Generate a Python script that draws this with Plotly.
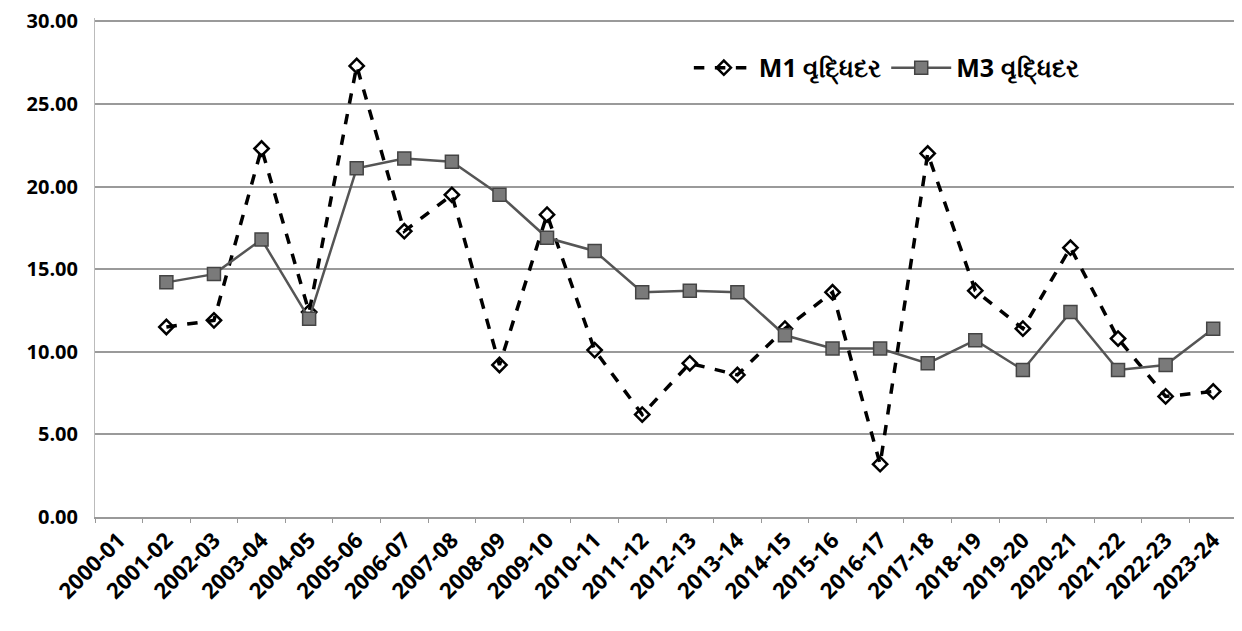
import plotly.graph_objects as go

years = ["2000-01", "2001-02", "2002-03", "2003-04", "2004-05", "2005-06", "2006-07",
         "2007-08", "2008-09", "2009-10", "2010-11", "2011-12", "2012-13", "2013-14",
         "2014-15", "2015-16", "2016-17", "2017-18", "2018-19", "2019-20", "2020-21",
         "2021-22", "2022-23", "2023-24"]

m1_growth = [None, 11.5, 11.9, 22.3, 12.4, 27.3, 17.3, 19.5, 9.2, 18.3, 10.1, 6.2,
             9.3, 8.6, 11.4, 13.6, 3.2, 22.0, 13.7, 11.4, 16.3, 10.8, 7.3, 7.6]

m3_growth = [None, 14.2, 14.7, 16.8, 12.0, 21.1, 21.7, 21.5, 19.5, 16.9, 16.1, 13.6,
             13.7, 13.6, 11.0, 10.2, 10.2, 9.3, 10.7, 8.9, 12.4, 8.9, 9.2, 11.4]

y_ticks = [0, 5, 10, 15, 20, 25, 30]
y_labels = ["0.00", "5.00", "10.00", "15.00", "20.00", "25.00", "30.00"]

fig = go.Figure()
fig.add_trace(go.Scatter(
    x=years, y=m1_growth, name="M1 વૃદ્ધિદર", mode="lines+markers",
    line=dict(color="black", width=3.5, dash="dash"),
    marker=dict(symbol="diamond-open", size=11, color="black", line=dict(width=2.5, color="black")),
))
fig.add_trace(go.Scatter(
    x=years, y=m3_growth, name="M3 વૃદ્ધિદર", mode="lines+markers",
    line=dict(color="#555555", width=2.5),
    marker=dict(symbol="square", size=13, color="#7a7a7a", line=dict(width=1.5, color="#444444")),
))

fig.update_layout(
    width=1234, height=623,
    margin=dict(l=87, r=5, t=10, b=114),
    paper_bgcolor="white", plot_bgcolor="white",
    font=dict(family="Open Sans", size=19, color="black"),
    showlegend=True,
    legend=dict(orientation="h", x=0.52, y=0.90, xanchor="left", yanchor="middle",
                bgcolor="rgba(0,0,0,0)", font=dict(size=25, color="black", weight="bold"),
                itemwidth=60),
    xaxis=dict(
        type="category", categoryorder="array", categoryarray=years,
        tickangle=-45, tickfont=dict(size=22, color="black", weight="bold"),
        showgrid=False, showline=True, linecolor="#999999", linewidth=1.5,
        ticks="outside", tickson="boundaries", ticklen=4, tickcolor="#999999",
        range=[-0.5, len(years) - 0.5], automargin=False,
    ),
    yaxis=dict(
        range=[0, 30.2], tickvals=y_ticks, ticktext=y_labels,
        tickfont=dict(size=20, color="black", weight="bold"),
        showgrid=True, gridcolor="#9a9a9a", gridwidth=1.5,
        showline=True, linecolor="#bbbbbb", linewidth=1,
        zeroline=False, ticks="", ticklabelstandoff=12,
        ticklabeloverflow="allow", automargin=False,
    ),
)

fig.write_html("out.html")
